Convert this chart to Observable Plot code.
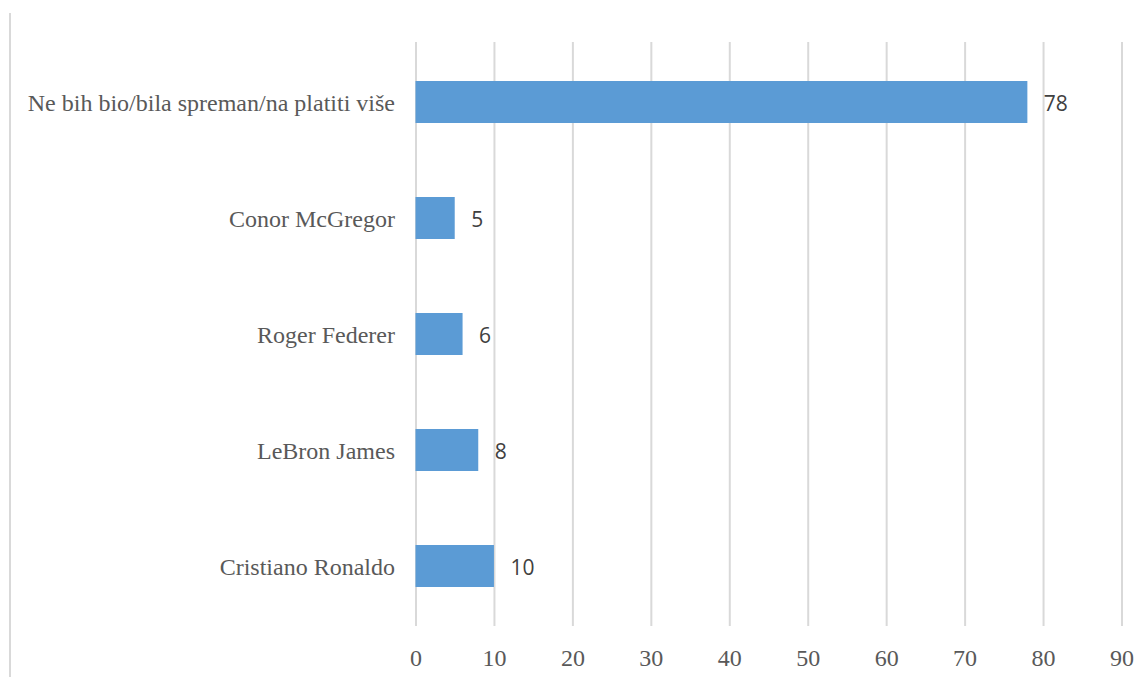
<!DOCTYPE html>
<html>
<head>
<meta charset="utf-8">
<script src="https://cdn.jsdelivr.net/npm/d3@7"></script>
<script src="https://cdn.jsdelivr.net/npm/@observablehq/plot@0.6"></script>
<style>
  html, body { margin: 0; padding: 0; background: #fff; }
  #wrap { position: relative; width: 1148px; height: 677px; overflow: hidden; }
  #frame { position: absolute; left: 9px; top: 13px; width: 2px; height: 664px; background: #d9d9d9; }
  #chart { position: absolute; left: 0; top: 0; }
  #chart svg { font-family: "Liberation Serif", "Times New Roman", serif; font-size: 24px; }
  #chart svg g.vlabels text { font-family: "Open Sans", "Liberation Sans", sans-serif; font-size: 21px; }
</style>
</head>
<body>
<div id="wrap"><div id="frame"></div><div id="chart"></div></div>
<script>
const categories = [
  "Ne bih bio/bila spreman/na platiti više",
  "Conor McGregor",
  "Roger Federer",
  "LeBron James",
  "Cristiano Ronaldo"
];
const values = [78, 5, 6, 8, 10];
const xTicks = [0, 10, 20, 30, 40, 50, 60, 70, 80, 90];

const data = categories.map((c, i) => ({category: c, value: values[i]}));

const chart = Plot.plot({
  width: 1148,
  height: 677,
  marginLeft: 415.5,
  marginRight: 26.5,
  marginTop: 42,
  marginBottom: 51,
  style: {background: "transparent", overflow: "visible"},
  x: {domain: [0, 90], ticks: xTicks, label: null},
  y: {domain: categories, label: null, paddingInner: 0.64, paddingOuter: 0.32},
  marks: [
    Plot.gridX(xTicks, {stroke: "#d9d9d9", strokeOpacity: 1, strokeWidth: 2}),
    Plot.barX(data, {x: "value", y: "category", fill: "#5b9bd5"}),
    Plot.text(data, {x: "value", y: "category", text: d => String(d.value), textAnchor: "start", dx: 16, dy: 2,
      fill: "#404040", className: "vlabels"}),
    Plot.axisX(xTicks, {tickSize: 0, tickPadding: 22, fill: "#595959", label: null}),
    Plot.axisY({tickSize: 0, tickPadding: 21, dy: 1, fill: "#595959", label: null})
  ]
});
document.getElementById("chart").appendChild(chart);
</script>
</body>
</html>
